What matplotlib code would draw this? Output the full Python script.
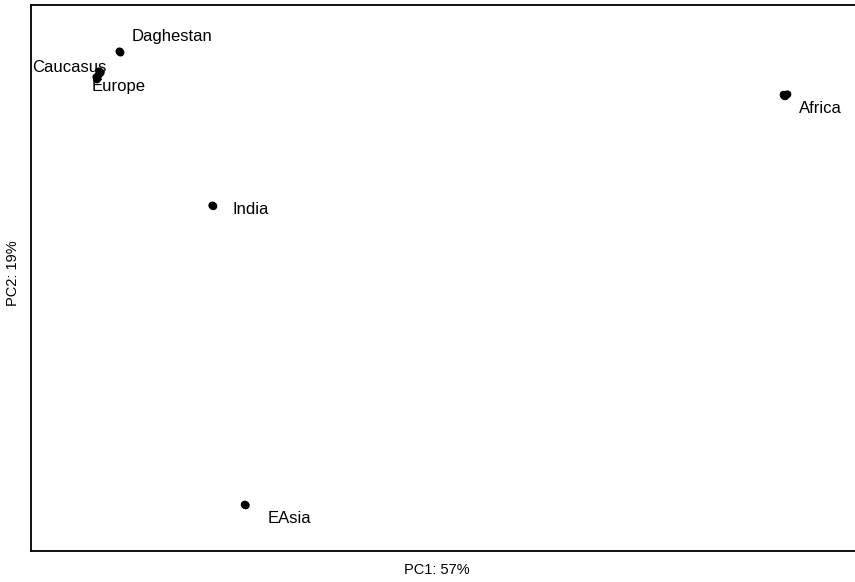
import matplotlib
matplotlib.use("Agg")
import matplotlib.pyplot as plt

plt.rcParams['font.family'] = ['Liberation Sans', 'DejaVu Sans']

# PC scores per population (a few samples each)
populations = ['Daghestan', 'Caucasus', 'Europe', 'Africa', 'India', 'EAsia']
pc1 = {
    'Daghestan': [-0.0439, -0.0437, -0.0438],
    'Caucasus': [-0.0476, -0.0473, -0.0475],
    'Europe': [-0.0481, -0.0479, -0.0480, -0.0478],
    'Africa': [0.0770, 0.0774, 0.0777, 0.0773, 0.0771],
    'India': [-0.0270, -0.0268, -0.0269],
    'EAsia': [-0.0211, -0.0209, -0.0210],
}
pc2 = {
    'Daghestan': [0.0481, 0.0478, 0.0480],
    'Caucasus': [0.0430, 0.0427, 0.0424],
    'Europe': [0.0415, 0.0412, 0.0409, 0.0418],
    'Africa': [0.0370, 0.0368, 0.0371, 0.0366, 0.0367],
    'India': [0.0086, 0.0084, 0.0085],
    'EAsia': [-0.0681, -0.0683, -0.0682],
}

# label placement (pixel offsets from the group mean), alignment
label_pos = {
    'Daghestan': ((12, 11), 'left'),
    'Caucasus': ((7, 0), 'right'),
    'Europe': ((-6, -13), 'left'),
    'Africa': ((14, -18), 'left'),
    'India': ((20, -8), 'left'),
    'EAsia': ((22, -18), 'left'),
}

fig = plt.figure(figsize=(8.55, 5.82), dpi=100)
ax = fig.add_axes([31 / 855, 1 - 551 / 582, 1 - 31 / 855, 546 / 582])

for pop in populations:
    xs, ys = pc1[pop], pc2[pop]
    ax.scatter(xs, ys, s=32, color='black', edgecolors='none', zorder=3)
    mx = sum(xs) / len(xs)
    my = sum(ys) / len(ys)
    off, ha = label_pos[pop]
    ax.annotate(pop, (mx, my), xytext=off, textcoords='offset pixels',
                ha=ha, va='baseline', fontsize=12, color='black')

ax.set_xlim(-0.06, 0.09)
ax.set_ylim(-0.08, 0.06)
ax.set_xticks([])
ax.set_yticks([])
for side in ['left', 'bottom', 'top']:
    ax.spines[side].set_linewidth(1.3)
ax.spines['right'].set_visible(False)

fig.text(437 / 855, 1 - 570 / 582, 'PC1: 57%', ha='center', va='center', fontsize=10.5)
fig.text(13 / 855, 1 - 273 / 582, 'PC2: 19%', ha='center', va='center',
         rotation=90, fontsize=10.5)

fig.savefig('out.png', dpi=100)
